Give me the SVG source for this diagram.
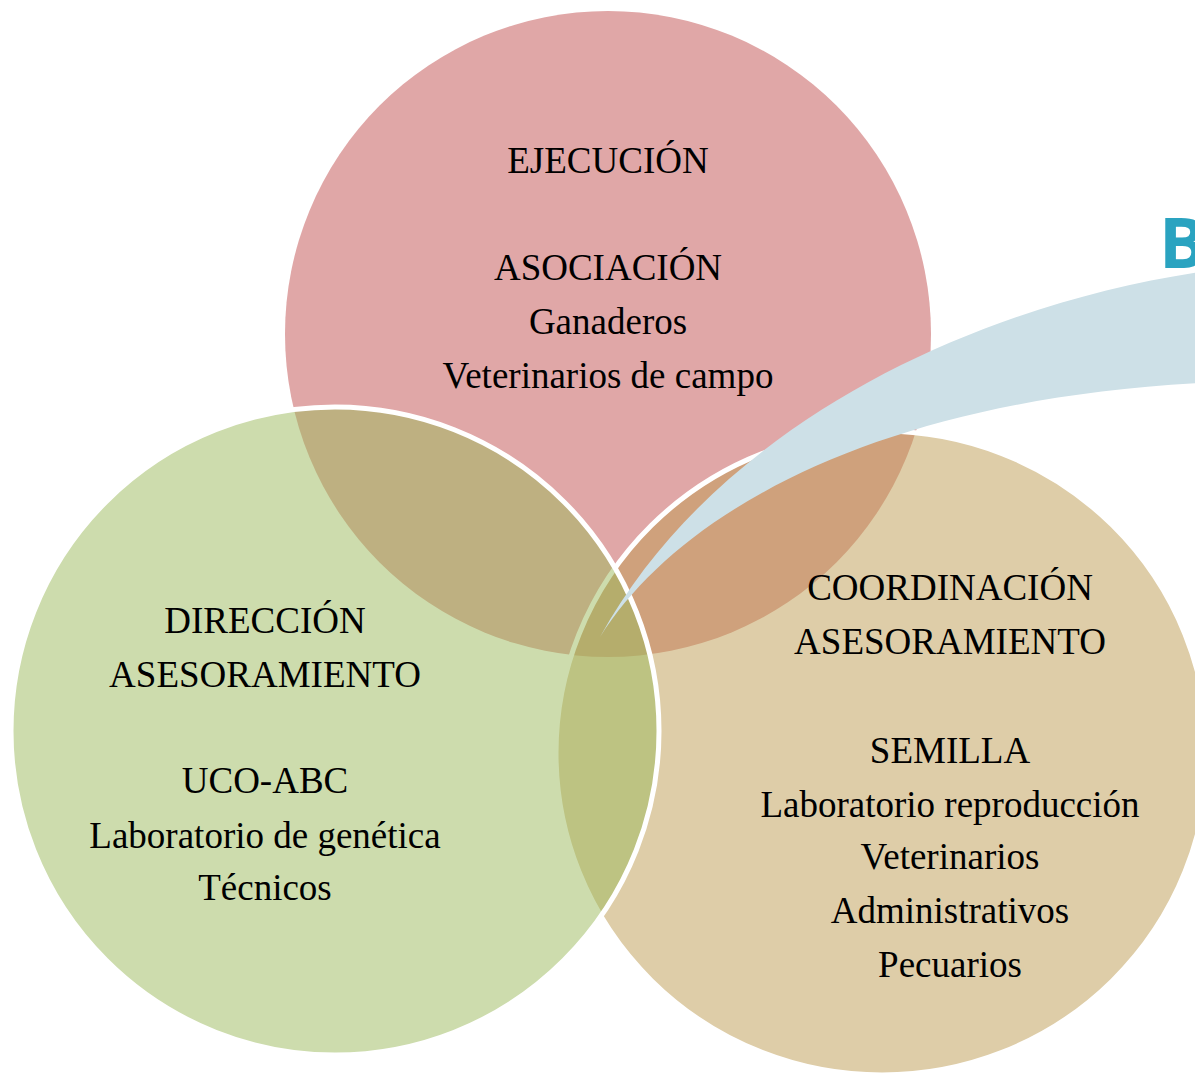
<svg xmlns="http://www.w3.org/2000/svg" width="1195" height="1075" viewBox="0 0 1195 1075">
<style>
.t{font-family:"Liberation Serif","Times New Roman",serif;font-size:37px;fill:#000;text-anchor:middle}
.ring{stroke:#fff;stroke-width:5;fill-opacity:0.5}
</style>
<rect width="1195" height="1075" fill="#fff"/>
<g id="ejecucion">
<circle cx="608" cy="334" r="323" fill="#e0a7a7"/>
<text class="t" x="608" y="173">EJECUCIÓN</text>
<text class="t" x="608" y="280">ASOCIACIÓN</text>
<text class="t" x="608" y="334">Ganaderos</text>
<text class="t" x="608" y="388">Veterinarios de campo</text>
</g>
<g id="coordinacion">
<ellipse class="ring" cx="882" cy="753" rx="326" ry="322" fill="#bd9b51"/>
<text class="t" x="950" y="600">COORDINACIÓN</text>
<text class="t" x="950" y="654">ASESORAMIENTO</text>
<text class="t" x="950" y="763">SEMILLA</text>
<text class="t" x="950" y="817">Laboratorio reproducción</text>
<text class="t" x="950" y="869">Veterinarios</text>
<text class="t" x="950" y="923">Administrativos</text>
<text class="t" x="950" y="977">Pecuarios</text>
</g>
<g id="direccion">
<circle class="ring" cx="335" cy="731" r="324" fill="#9bb95b"/>
<text class="t" x="265" y="633">DIRECCIÓN</text>
<text class="t" x="265" y="687">ASESORAMIENTO</text>
<text class="t" x="265" y="793">UCO-ABC</text>
<text class="t" x="265" y="848">Laboratorio de genética</text>
<text class="t" x="265" y="900">Técnicos</text>
</g>
<g id="connectors">
<path id="arrow" d="M1200,272 C980,305 720,420 600,637 C680,510 880,400 1200,383 Z" fill="#cde0e7"/>
</g>
<g id="brand">
<text x="1159" y="268" font-family="'Open Sans','Liberation Sans',sans-serif" font-weight="bold" font-size="70" fill="#2aa3c0">B</text>
</g>
</svg>
